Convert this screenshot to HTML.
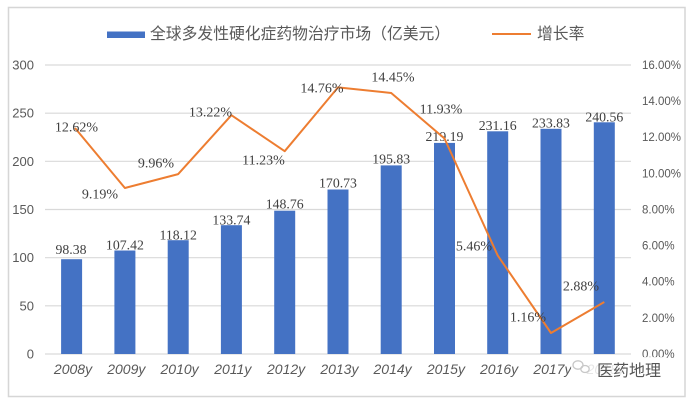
<!DOCTYPE html>
<html><head><meta charset="utf-8"><style>
html,body{margin:0;padding:0;background:#fff;}
svg{display:block;}
</style></head><body>
<svg width="688" height="402" viewBox="0 0 688 402" xmlns="http://www.w3.org/2000/svg">
<rect x="0" y="0" width="688" height="402" fill="#fff"/>
<rect x="8.5" y="7.5" width="676.5" height="389" fill="#fff" stroke="#d6d6d6" stroke-width="1.5"/>

<!-- legend -->
<rect x="107" y="31.5" width="38" height="6.5" fill="#4472C4"/>
<text x="150" y="34.5" dominant-baseline="central" font-family="'Liberation Sans','Noto Sans CJK SC',sans-serif" font-size="15.8" fill="#595959">全球多发性硬化症药物治疗市场（亿美元）</text>
<line x1="492" y1="34" x2="531" y2="34" stroke="#ED7D31" stroke-width="2"/>
<text x="537" y="34.5" dominant-baseline="central" font-family="'Liberation Sans','Noto Sans CJK SC',sans-serif" font-size="15.8" fill="#595959">增长率</text>

<!-- gridlines -->
<g stroke="#d9d9d9" stroke-width="1.2">
<line x1="45" y1="65" x2="631" y2="65"/>
<line x1="45" y1="113.2" x2="631" y2="113.2"/>
<line x1="45" y1="161.3" x2="631" y2="161.3"/>
<line x1="45" y1="209.5" x2="631" y2="209.5"/>
<line x1="45" y1="257.7" x2="631" y2="257.7"/>
<line x1="45" y1="305.8" x2="631" y2="305.8"/>
<line x1="45" y1="354" x2="631" y2="354"/>
</g>

<!-- left axis -->
<g font-family="'Liberation Sans',sans-serif" font-size="13" fill="#595959" text-anchor="end">
<text x="34" y="69.5">300</text>
<text x="34" y="117.7">250</text>
<text x="34" y="165.8">200</text>
<text x="34" y="214">150</text>
<text x="34" y="262.2">100</text>
<text x="34" y="310.3">50</text>
<text x="34" y="358.5">0</text>
</g>

<!-- right axis -->
<g font-family="'Liberation Sans',sans-serif" font-size="11.5" fill="#595959">
<text x="642" y="69">16.00%</text>
<text x="642" y="105.1">14.00%</text>
<text x="642" y="141.2">12.00%</text>
<text x="642" y="177.4">10.00%</text>
<text x="642" y="213.5">8.00%</text>
<text x="642" y="249.6">6.00%</text>
<text x="642" y="285.7">4.00%</text>
<text x="642" y="321.9">2.00%</text>
<text x="642" y="358">0.00%</text>
</g>

<!-- bars -->
<g fill="#4472C4">
<rect x="61.1" y="259.2" width="21" height="94.8"/>
<rect x="114.4" y="250.5" width="21" height="103.5"/>
<rect x="167.7" y="240.2" width="21" height="113.8"/>
<rect x="220.9" y="225.2" width="21" height="128.8"/>
<rect x="274.2" y="210.7" width="21" height="143.3"/>
<rect x="327.5" y="189.5" width="21" height="164.5"/>
<rect x="380.7" y="165.4" width="21" height="188.6"/>
<rect x="434" y="142.9" width="21" height="211.1"/>
<rect x="487.2" y="131.3" width="21" height="222.7"/>
<rect x="540.5" y="128.8" width="21" height="225.2"/>
<rect x="593.8" y="122.3" width="21" height="231.7"/>
</g>

<!-- bar labels -->
<g font-family="'Liberation Serif',serif" font-size="13.8" fill="#404040" text-anchor="middle">
<text x="71" y="254">98.38</text>
<text x="124.9" y="249.5">107.42</text>
<text x="178.2" y="239.5">118.12</text>
<text x="231.4" y="224.5">133.74</text>
<text x="284.7" y="208.5">148.76</text>
<text x="338" y="187.5">170.73</text>
<text x="391.2" y="163.5">195.83</text>
<text x="444.5" y="141">219.19</text>
<text x="497.7" y="130">231.16</text>
<text x="551" y="127.5">233.83</text>
<text x="604.3" y="121.5">240.56</text>
</g>

<!-- line -->
<polyline fill="none" stroke="#ED7D31" stroke-width="2" stroke-linejoin="round"
points="75,128 124.9,188 178.2,174.1 231.4,115.2 284.7,151.2 338,87.4 391.2,93 444.5,138.5 497.7,255.4 551,333 604.3,302"/>

<!-- percent labels -->
<g font-family="'Liberation Serif',serif" font-size="14" fill="#404040" text-anchor="middle" dominant-baseline="central">
<text x="76.5" y="128">12.62%</text>
<text x="100" y="195">9.19%</text>
<text x="156" y="164">9.96%</text>
<text x="210.5" y="113">13.22%</text>
<text x="263.5" y="161">11.23%</text>
<text x="322" y="89">14.76%</text>
<text x="393" y="78">14.45%</text>
<text x="441" y="110">11.93%</text>
<text x="474" y="247">5.46%</text>
<text x="528" y="318">1.16%</text>
<text x="581" y="287">2.88%</text>
</g>

<!-- category labels -->
<g font-family="'Liberation Sans',sans-serif" font-size="14" font-style="italic" fill="#595959" text-anchor="middle">
<text x="73" y="374">2008y</text>
<text x="126.3" y="374">2009y</text>
<text x="179.6" y="374">2010y</text>
<text x="232.8" y="374">2011y</text>
<text x="286.1" y="374">2012y</text>
<text x="339.4" y="374">2013y</text>
<text x="392.6" y="374">2014y</text>
<text x="445.9" y="374">2015y</text>
<text x="499.1" y="374">2016y</text>
<text x="552.4" y="374">2017y</text>
<text x="605.7" y="374">2018y</text>
</g>

<!-- watermark -->
<rect x="571" y="357" width="93" height="22" fill="#fff" opacity="0.85"/>
<g fill="none" stroke="#c8c8c8" stroke-width="1.3">
<ellipse cx="578" cy="365" rx="5" ry="4.2"/>
<ellipse cx="585" cy="369" rx="4.2" ry="3.5"/>
</g>
<text x="597" y="376" font-family="'Liberation Sans','Noto Sans CJK SC',sans-serif" font-size="16" fill="#555">医药地理</text>
</svg>
</body></html>
